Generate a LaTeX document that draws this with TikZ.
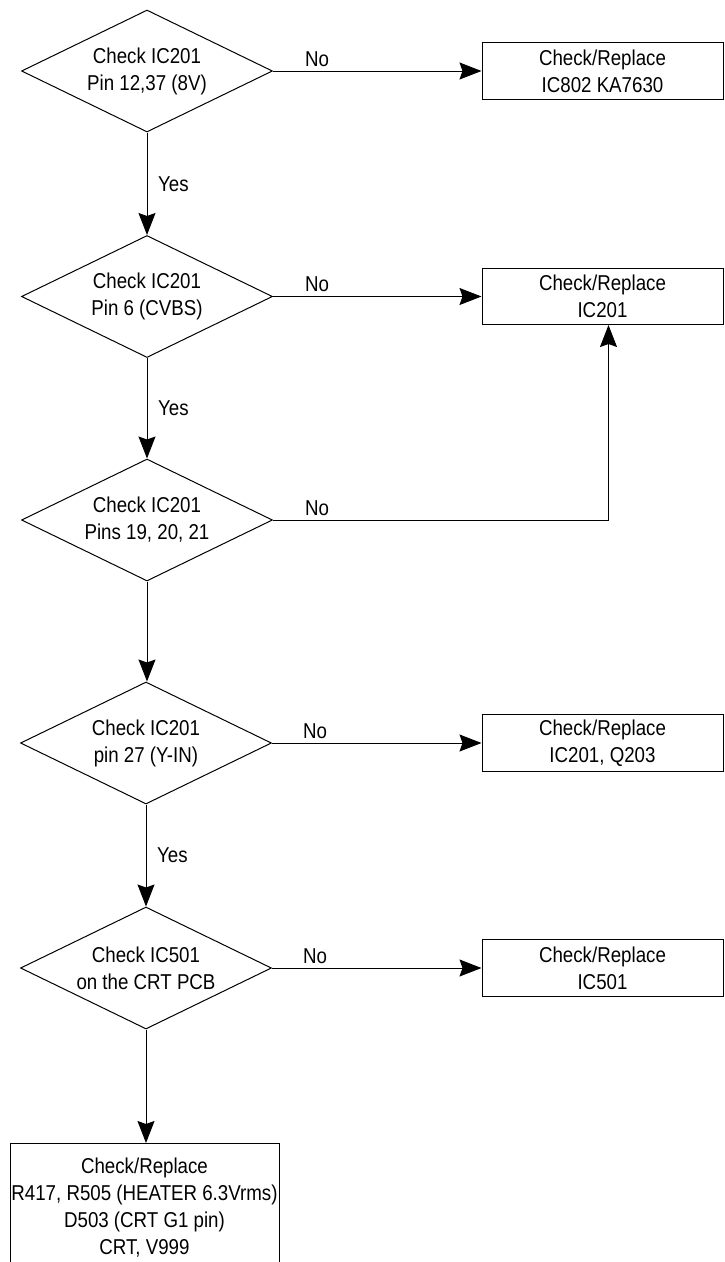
\documentclass[tikz,border=0pt]{standalone}
\usepackage{fontspec}
\setmainfont[FakeStretch=0.87]{Liberation Sans}
\usetikzlibrary{shapes.geometric,arrows.meta}

\begin{document}
\begin{tikzpicture}[x=1pt,y=-1pt,
  every node/.style={font=\fontsize{21.5}{27}\selectfont, inner sep=0pt},
  decision/.style={diamond, draw, line width=1pt, shape aspect=2.06,
    minimum width=251pt, minimum height=122pt, align=center},
  action/.style={rectangle, draw, line width=1pt, minimum width=241pt,
    minimum height=57pt, align=center},
  flow/.style={line width=1pt, -{Stealth[length=22pt,width=17pt,inset=3pt]}},
  nolabel/.style={anchor=base west},
  yeslabel/.style={anchor=west}
]
% page frame
\fill[white] (0,0) rectangle (725,1262);
\useasboundingbox (0,0) rectangle (725,1262);
\clip (0,0) rectangle (725,1262);

% decisions
\node[decision] (d1) at (147,71)  {Check IC201\\Pin 12,37 (8V)};
\node[decision] (d2) at (147,296.5) {Check IC201\\Pin 6 (CVBS)};
\node[decision] (d3) at (147,520) {Check IC201\\Pins 19, 20, 21};
\node[decision] (d4) at (146,743) {Check IC201\\pin 27 (Y-IN)};
\node[decision] (d5) at (146,968) {Check IC501\\on the CRT PCB};

% actions
\node[action] (b1) at (602.5,71)    {Check/Replace\\IC802 KA7630};
\node[action, minimum height=56pt] (b2) at (602.5,296.5) {Check/Replace\\IC201};
\node[action] (b3) at (602.5,743)   {Check/Replace\\IC201, Q203};
\node[action] (b4) at (602.5,968)   {Check/Replace\\IC501};
\node[action, anchor=north, minimum width=269pt, inner ysep=14.5pt] (fin) at (144.5,1143)
  {Check/Replace\\R417, R505 (HEATER 6.3Vrms)\\D503 (CRT G1 pin)\\CRT, V999};

% connectors
\draw[flow] (d1.east) -- (b1.west);
\draw[flow] (d2.east) -- (b2.west);
\draw[flow] (d4.east) -- (b3.west);
\draw[flow] (d5.east) -- (b4.west);
\coordinate (r3) at (608.5,520);
\draw[flow] (d3.east) -- (r3) -- (r3 |- b2.south);

\draw[flow] (d1.south) -- (d2.north);
\draw[flow] (d2.south) -- (d3.north);
\draw[flow] (d3.south) -- (d3.south |- d4.north);
\draw[flow] (d4.south) -- (d5.north);
\draw[flow] (d5.south) -- (d5.south |- fin.north);

% labels
\node[nolabel] (n1) at (305,66)    {No};
\node[nolabel] (n2) at (305,291.5) {No};
\node[nolabel] (n3) at (305,515)   {No};
\node[nolabel] (n4) at (303,738)   {No};
\node[nolabel] (n5) at (303,963)   {No};

\node[yeslabel] (y1) at (158,184) {Yes};
\node[yeslabel] (y2) at (158,408) {Yes};
\node[yeslabel] (y4) at (157,855) {Yes};
\end{tikzpicture}
\end{document}
